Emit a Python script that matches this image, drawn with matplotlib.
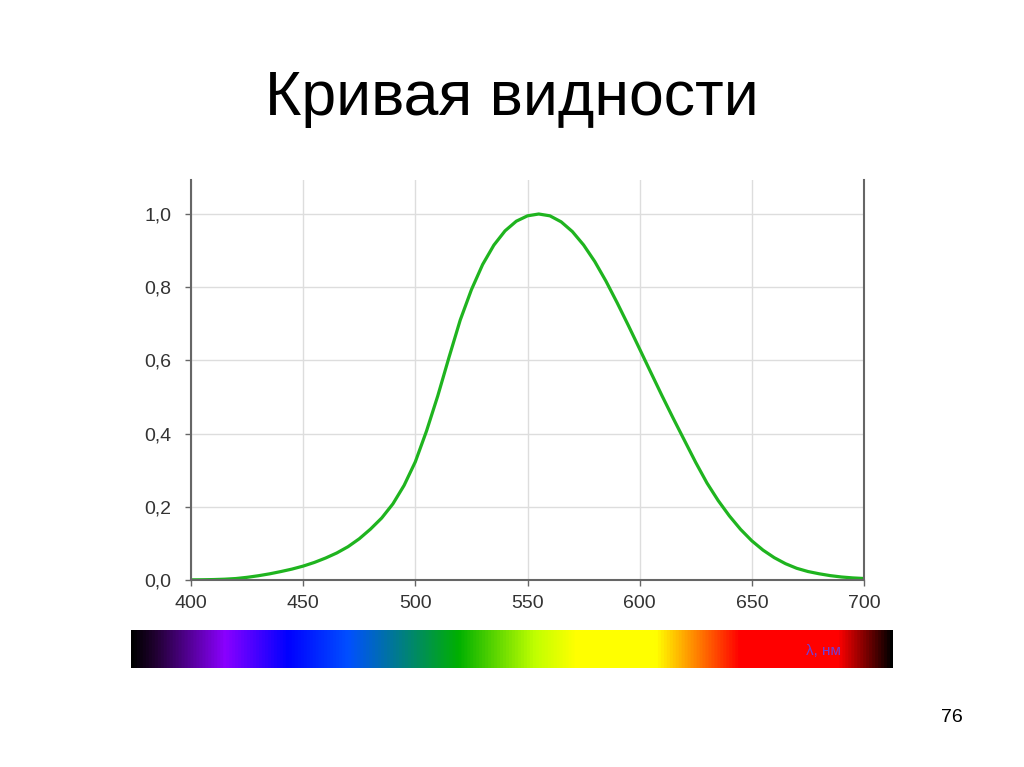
import numpy as np
import matplotlib
matplotlib.use("Agg")
import matplotlib.pyplot as plt
from matplotlib.colors import LinearSegmentedColormap

plt.rcParams["font.family"] = ["Liberation Sans", "DejaVu Sans"]

# relative luminous efficiency, every 5 nm
wavelength = list(range(400, 705, 5))
visibility = [0.0004, 0.00064, 0.0012, 0.0022, 0.004, 0.0073, 0.0116, 0.0168,
              0.023, 0.0298, 0.038, 0.048, 0.060, 0.0739, 0.091, 0.1126, 0.139,
              0.1693, 0.208, 0.2586, 0.323, 0.4073, 0.503, 0.6082, 0.710,
              0.7932, 0.862, 0.9149, 0.954, 0.9803, 0.995, 1.000, 0.995, 0.9786,
              0.952, 0.9154, 0.870, 0.8163, 0.757, 0.6949, 0.631, 0.5668, 0.503,
              0.4412, 0.381, 0.321, 0.265, 0.217, 0.175, 0.1382, 0.107, 0.0816,
              0.061, 0.0446, 0.032, 0.0232, 0.017, 0.0119, 0.0082, 0.0057,
              0.0041]

x_ticks = [400, 450, 500, 550, 600, 650, 700]
y_ticks = [0.0, 0.2, 0.4, 0.6, 0.8, 1.0]
y_labels = ["0,0", "0,2", "0,4", "0,6", "0,8", "1,0"]

# colour stops of the spectrum strip (position along the strip, colour)
spectrum_pos = [0.0, 0.03, 0.122, 0.205, 0.285, 0.357, 0.43, 0.53, 0.584,
                0.69, 0.73, 0.80, 0.93, 1.0]
spectrum_col = ["#000000", "#200030", "#8a00ff", "#0000ff", "#0050ff",
                "#008080", "#00b000", "#c0ff00", "#ffff00", "#ffff00",
                "#ffa000", "#ff0000", "#ff0000", "#000000"]

fig = plt.figure(figsize=(10.24, 7.67), dpi=100)

ax = fig.add_axes([191 / 1024, 1 - 580 / 767, 673 / 1024, 400 / 767])
ax.plot(wavelength, visibility, color="#1fb41f", lw=2.3, solid_capstyle="round",
        solid_joinstyle="round")
ax.set_xlim(400, 700)
ax.set_ylim(0, 400 / 366)
ax.set_xticks(x_ticks)
ax.set_yticks(y_ticks)
ax.set_yticklabels(y_labels)
ax.grid(True, color="#dddddd", lw=1)
ax.set_axisbelow(True)
ax.spines["top"].set_visible(False)
for side in ["left", "bottom", "right"]:
    ax.spines[side].set_color("#666666")
    ax.spines[side].set_linewidth(1.5)
ax.tick_params(axis="both", direction="out", length=4, width=1, color="#666666",
               labelsize=14, labelcolor="#333333")
ax.tick_params(axis="y", pad=10)
ax.tick_params(axis="x", pad=7)

cmap = LinearSegmentedColormap.from_list("spec", list(zip(spectrum_pos, spectrum_col)))
bar = fig.add_axes([131 / 1024, 1 - 668 / 767, 762 / 1024, 38 / 767])
bar.imshow(np.linspace(0, 1, 512).reshape(1, -1), cmap=cmap, aspect="auto",
           extent=[0, 1, 0, 1])
bar.set_axis_off()
bar.text((823 - 131) / 762, 0.45, "λ, нм", color="#7040d8", fontsize=11,
         ha="center", va="center", transform=bar.transAxes)

fig.text(512 / 1024, 1 - 98 / 767, "Кривая видности", fontsize=45,
         ha="center", va="center", color="#000000")
fig.text(952 / 1024, 1 - 718 / 767, "76", fontsize=14, ha="center",
         va="center", color="#000000")

fig.savefig("out.png", dpi=100, facecolor="white")
